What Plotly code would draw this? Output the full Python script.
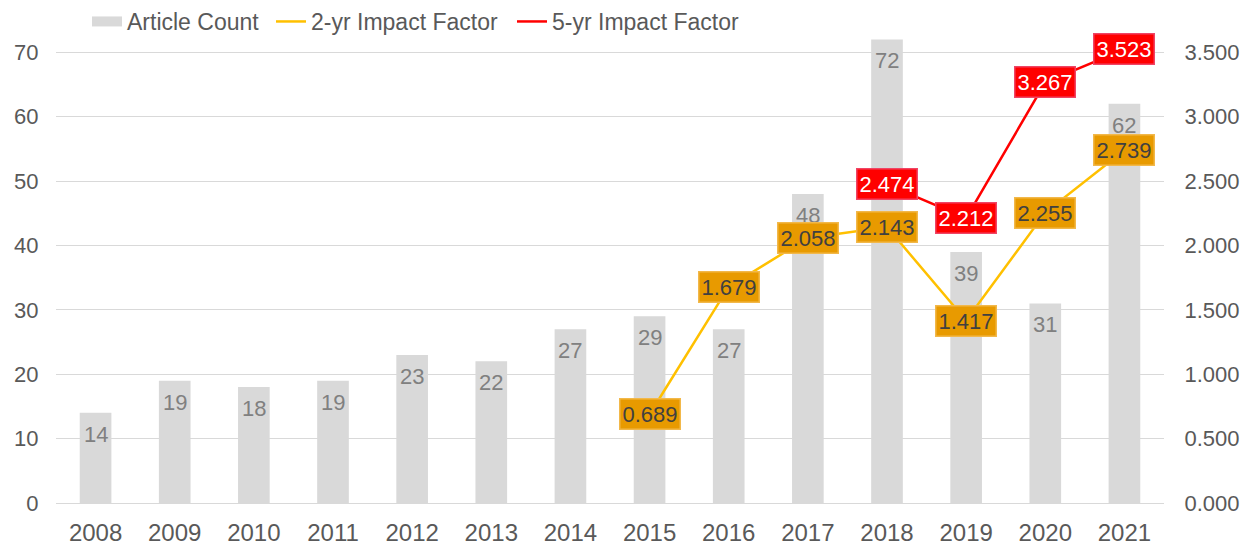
import plotly.graph_objects as go

years = ["2008", "2009", "2010", "2011", "2012", "2013", "2014",
         "2015", "2016", "2017", "2018", "2019", "2020", "2021"]
article_count = [14, 19, 18, 19, 23, 22, 27, 29, 27, 48, 72, 39, 31, 62]
if2_years = ["2015", "2016", "2017", "2018", "2019", "2020", "2021"]
if2_values = [0.689, 1.679, 2.058, 2.143, 1.417, 2.255, 2.739]
if5_years = ["2018", "2019", "2020", "2021"]
if5_values = [2.474, 2.212, 3.267, 3.523]

FONT = "Arial, Liberation Sans, sans-serif"
GRAY = "#595959"
FS = 22
W, H = 1253, 544

fig = go.Figure()
fig.add_trace(go.Bar(
    x=years, y=article_count, name="Article Count",
    marker=dict(color="#d9d9d9", line=dict(width=0)),
    yaxis="y", showlegend=False,
))
# legend-only entry so the key shows a wide grey swatch (no data drawn)
fig.add_trace(go.Scatter(
    x=[None], y=[None], name="Article Count", mode="lines",
    line=dict(color="#d9d9d9", width=12), legend="legend", yaxis="y",
))
fig.add_trace(go.Scatter(
    x=if2_years, y=if2_values, name="2-yr Impact Factor", mode="lines",
    line=dict(color="#FFC000", width=2.5), yaxis="y2", legend="legend2",
))
fig.add_trace(go.Scatter(
    x=if5_years, y=if5_values, name="5-yr Impact Factor", mode="lines",
    line=dict(color="#FF0000", width=2.5), yaxis="y2", legend="legend3",
))

# bar value labels, just inside the top of each bar (category index on x)
for i, v in enumerate(article_count):
    fig.add_annotation(
        x=i, y=v, xref="x", yref="y", text=str(v), showarrow=False,
        yanchor="top", yshift=-7,
        font=dict(family=FONT, size=FS, color="#808080"),
    )
for xv, yv in zip(if2_years, if2_values):
    fig.add_annotation(
        x=years.index(xv), y=yv, xref="x", yref="y2", text=f"{yv:.3f}", showarrow=False,
        font=dict(family=FONT, size=FS, color="#404040"),
        bgcolor="#E89A00", bordercolor="#F2B84A", borderwidth=1.5, borderpad=2,
    )
for xv, yv in zip(if5_years, if5_values):
    fig.add_annotation(
        x=years.index(xv), y=yv, xref="x", yref="y2", text=f"{yv:.3f}", showarrow=False,
        font=dict(family=FONT, size=FS, color="#ffffff"),
        bgcolor="#FF0000", bordercolor="#F04565", borderwidth=1.5, borderpad=2,
    )


def legend_at(px):
    return dict(orientation="h", x=px / W, xanchor="left", xref="container",
                y=1.0, yanchor="top", yref="container",
                font=dict(family=FONT, size=23, color=GRAY),
                itemwidth=30, bgcolor="rgba(0,0,0,0)")


YMAX = 73
fig.update_layout(
    width=W, height=H,
    margin=dict(l=56, r=89, t=33, b=41, autoexpand=False),
    paper_bgcolor="white", plot_bgcolor="white",
    font=dict(family=FONT, size=FS, color=GRAY),
    bargap=0.6,
    showlegend=True,
    legend=legend_at(87),
    legend2=legend_at(271),
    legend3=legend_at(512),
    xaxis=dict(type="category", categoryorder="array", categoryarray=years,
               range=[-0.5, len(years) - 0.5],
               showgrid=False, showline=False, zeroline=False,
               ticks="outside", ticklen=8, tickcolor="rgba(0,0,0,0)",
               tickfont=dict(family=FONT, size=24, color=GRAY)),
    yaxis=dict(range=[0, YMAX], tickvals=[0, 10, 20, 30, 40, 50, 60, 70],
               showgrid=True, gridcolor="#d9d9d9", gridwidth=1,
               zeroline=True, zerolinecolor="#d9d9d9", zerolinewidth=1,
               showline=False, ticks="outside", ticklen=12, tickcolor="rgba(0,0,0,0)",
               tickfont=dict(family=FONT, size=FS, color=GRAY)),
    yaxis2=dict(range=[0, YMAX / 20], overlaying="y", side="right",
                tickvals=[0, 0.5, 1, 1.5, 2, 2.5, 3, 3.5], tickformat=".3f",
                showgrid=False, zeroline=False, showline=False,
                ticks="outside", ticklen=15, tickcolor="rgba(0,0,0,0)",
                tickfont=dict(family=FONT, size=FS, color=GRAY)),
)

fig.write_html("out.html", config={"displayModeBar": False},
               post_script="document.body.style.margin='0';document.body.style.overflow='hidden';")
